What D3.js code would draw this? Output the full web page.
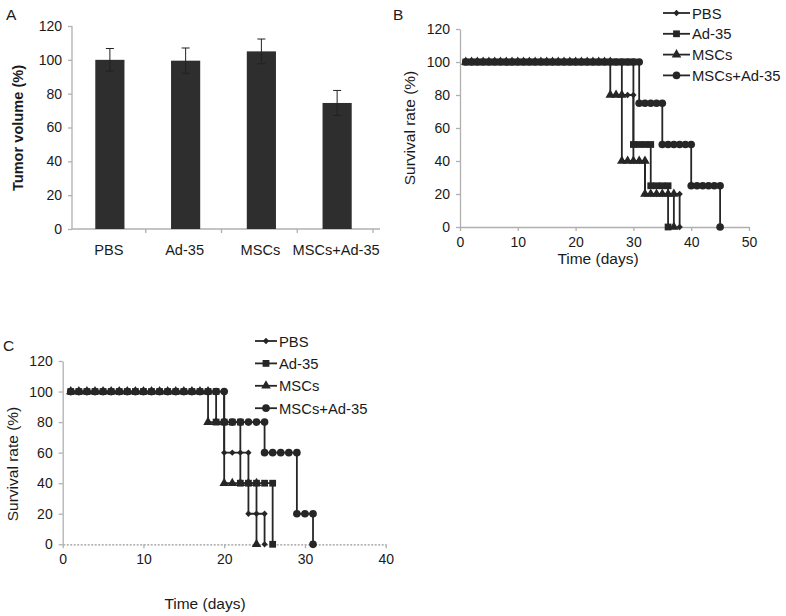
<!DOCTYPE html>
<html>
<head>
<meta charset="utf-8">
<script src="https://cdn.jsdelivr.net/npm/d3@7"></script>
<style>
  html, body { margin: 0; padding: 0; background: #fff; }
  svg { display: block; font-family: "Liberation Sans", Arial, sans-serif; }
  text { fill: #1a1a1a; }
</style>
</head>
<body>
<svg id="chart" width="786" height="616"></svg>
<script>
// ---------- Data ----------
const categories = ["PBS", "Ad-35", "MSCs", "MSCs+Ad-35"];
const tumorVolume = [100, 99.5, 105, 74.5];
const tumorError = [6.7, 7.5, 7.3, 7.4];
const tumorTicks = [0, 20, 40, 60, 80, 100, 120];

const seriesNames = ["PBS", "Ad-35", "MSCs", "MSCs+Ad-35"];
const survivalTicks = [0, 20, 40, 60, 80, 100, 120];

// Panel B: survival (%) per day, starting at day 1
const survB_PBS = [100,100,100,100,100,100,100,100,100,100,100,100,100,100,100,100,100,100,100,100,100,100,100,100,100,100,100,
  80,80,40,40,20,20,20,20,20,20,0];
const survB_Ad35 = [100,100,100,100,100,100,100,100,100,100,100,100,100,100,100,100,100,100,100,100,100,100,100,100,100,100,100,100,100,
  50,50,50,25,25,25,0];
const survB_MSCs = [100,100,100,100,100,100,100,100,100,100,100,100,100,100,100,100,100,100,100,100,100,100,100,100,100,
  80,80,40,40,40,40,20,20,20,20,20,0];
const survB_MSCsAd35 = [100,100,100,100,100,100,100,100,100,100,100,100,100,100,100,100,100,100,100,100,100,100,100,100,100,100,100,100,100,100,
  75,75,75,75,50,50,50,50,50,25,25,25,25,25,0];
const daysTicksB = [0, 10, 20, 30, 40, 50];

// Panel C: survival (%) per day, starting at day 1
const survC_PBS = [100,100,100,100,100,100,100,100,100,100,100,100,100,100,100,100,100,100,100,
  60,60,60,20,20,0];
const survC_Ad35 = [100,100,100,100,100,100,100,100,100,100,100,100,100,100,100,100,100,100,
  80,80,80,40,40,40,40,0];
const survC_MSCs = [100,100,100,100,100,100,100,100,100,100,100,100,100,100,100,100,100,
  80,80,40,40,40,40,0];
const survC_MSCsAd35 = [100,100,100,100,100,100,100,100,100,100,100,100,100,100,100,100,100,100,100,
  80,80,80,80,80,60,60,60,60,20,20,0];
const daysTicksC = [0, 10, 20, 30, 40];

// ---------- Styles ----------
const ink = "#262626";
const axisGrey = "#b0b0b0";
const tickFont = 14;
const titleFont = 15.5;
const legendFont = 14.8;
const symbols = [
  {type: d3.symbolSquare, size: 20, rotate: 45},   // PBS diamond
  {type: d3.symbolSquare, size: 46, rotate: 0},    // Ad-35 square
  {type: d3.symbolTriangle, size: 40, rotate: 0},  // MSCs triangle
  {type: d3.symbolCircle, size: 46, rotate: 0}     // MSCs+Ad-35 circle
];

const svg = d3.select("#chart");

function styleAxis(g) {
  g.selectAll(".domain").attr("stroke", axisGrey).attr("stroke-width", 1.3);
  g.selectAll(".tick line").attr("stroke", axisGrey).attr("stroke-width", 1.3);
  g.selectAll(".tick text").attr("font-size", tickFont).attr("fill", "#1a1a1a")
    .attr("font-family", "'Liberation Sans', Arial, sans-serif");
}

// ---------- Panel A ----------
(function () {
  const y = d3.scaleLinear().domain([0, 120]).range([229, 26]);
  const x = d3.scaleBand().domain(categories).range([70, 373]).padding(0);
  const barW = x.step() * 0.385;

  const gy = svg.append("g").attr("transform", "translate(72,0)")
    .call(d3.axisLeft(y).tickValues(tumorTicks).tickSize(4).tickSizeOuter(0).tickPadding(6));
  styleAxis(gy);
  gy.select(".domain").attr("d", `M0,${y(120)}V${y(0)}`);

  const gx = svg.append("g");
  gx.append("line").attr("x1", 72).attr("x2", 380).attr("y1", y(0)).attr("y2", y(0))
    .attr("stroke", axisGrey).attr("stroke-width", 1.3);
  const seps = categories.map(c => x(c)).concat([x.range()[1]]);
  gx.selectAll("line.sep").data(seps.slice(1)).join("line").attr("class", "sep")
    .attr("x1", d => d).attr("x2", d => d).attr("y1", y(0)).attr("y2", y(0) + 4)
    .attr("stroke", axisGrey).attr("stroke-width", 1.3);
  gx.selectAll("text").data(categories).join("text")
    .attr("x", d => x(d) + x.bandwidth() / 2 + 1).attr("y", y(0) + 26)
    .attr("text-anchor", "middle").attr("font-size", 14.6).text(d => d);

  svg.append("g").selectAll("rect").data(categories).join("rect")
    .attr("x", (d) => x(d) + x.bandwidth() / 2 + 2 - barW / 2)
    .attr("width", barW)
    .attr("y", (d, i) => y(tumorVolume[i]))
    .attr("height", (d, i) => y(0) - y(tumorVolume[i]))
    .attr("fill", "#2e2e2e");

  const eb = svg.append("g").attr("stroke", "#222").attr("stroke-width", 1);
  categories.forEach((c, i) => {
    const cx = x(c) + x.bandwidth() / 2 + 2;
    const top = y(tumorVolume[i] + tumorError[i]);
    const bot = y(tumorVolume[i] - tumorError[i]);
    eb.append("line").attr("x1", cx).attr("x2", cx).attr("y1", top).attr("y2", bot);
    eb.append("line").attr("x1", cx - 4).attr("x2", cx + 4).attr("y1", top).attr("y2", top);
    eb.append("line").attr("x1", cx - 4).attr("x2", cx + 4).attr("y1", bot).attr("y2", bot);
  });

  svg.append("text").attr("transform", `translate(23,128) rotate(-90)`)
    .attr("text-anchor", "middle").attr("font-size", 14.6).attr("font-weight", "bold")
    .text("Tumor volume (%)");
  svg.append("text").attr("x", 6).attr("y", 20).attr("font-size", titleFont).text("A");
})();

// ---------- Survival panels ----------
function survivalPanel(opts) {
  const {series, xDomain, xRange, yRange, xTicks, legend, xlab, ylab, letter, dashedBase} = opts;
  const x = d3.scaleLinear().domain(xDomain).range(xRange);
  const y = d3.scaleLinear().domain([0, 120]).range(yRange);

  const gy = svg.append("g").attr("transform", `translate(${xRange[0]},0)`)
    .call(d3.axisLeft(y).tickValues(survivalTicks).tickSize(4).tickSizeOuter(0).tickPadding(6));
  styleAxis(gy);

  const gx = svg.append("g").attr("transform", `translate(0,${yRange[0]})`)
    .call(d3.axisBottom(x).tickValues(xTicks).tickSize(4).tickSizeOuter(0).tickPadding(6));
  styleAxis(gx);
  if (dashedBase) gx.select(".domain").attr("stroke-dasharray", "2,1.5").attr("stroke", "#999");

  const line = d3.line().x(d => x(d[0])).y(d => y(d[1])).curve(d3.curveStepAfter);

  series.forEach((vals, si) => {
    const pts = vals.map((v, i) => [i + 1, v]);
    svg.append("path").datum(pts).attr("d", line)
      .attr("fill", "none").attr("stroke", ink).attr("stroke-width", 1.8);
    const marks = pts.slice();
    pts.forEach((p, i) => { if (i > 0 && pts[i - 1][1] !== p[1]) marks.push([p[0], pts[i - 1][1]]); });
    const sym = symbols[si];
    svg.append("g").selectAll("path").data(marks).join("path")
      .attr("d", d3.symbol().type(sym.type).size(sym.size))
      .attr("transform", d => `translate(${x(d[0])},${y(d[1])}) rotate(${sym.rotate})`)
      .attr("fill", ink);
  });

  const lg = svg.append("g");
  seriesNames.forEach((name, i) => {
    const yy = legend.y0 + i * legend.dy;
    lg.append("line").attr("x1", legend.x0).attr("x2", legend.x1).attr("y1", yy).attr("y2", yy)
      .attr("stroke", ink).attr("stroke-width", 1.8);
    const sym = symbols[i];
    lg.append("path").attr("d", d3.symbol().type(sym.type).size(sym.size))
      .attr("transform", `translate(${(legend.x0 + legend.x1) / 2},${yy}) rotate(${sym.rotate})`)
      .attr("fill", ink);
    lg.append("text").attr("x", legend.x1 + 2).attr("y", yy + 5.5)
      .attr("font-size", legendFont).text(name);
  });

  svg.append("text").attr("transform", `translate(${ylab[0]},${ylab[1]}) rotate(-90)`)
    .attr("text-anchor", "middle").attr("font-size", titleFont).text("Survival rate (%)");
  svg.append("text").attr("x", xlab[0]).attr("y", xlab[1])
    .attr("text-anchor", "middle").attr("font-size", titleFont).text("Time (days)");
  svg.append("text").attr("x", letter[0]).attr("y", letter[1]).attr("font-size", titleFont).text(letter[2]);
}

survivalPanel({
  series: [survB_PBS, survB_Ad35, survB_MSCs, survB_MSCsAd35],
  xDomain: [0, 50], xRange: [460, 749], yRange: [227, 29], xTicks: daysTicksB,
  legend: {x0: 663, x1: 690, y0: 13, dy: 20.8},
  xlab: [598, 264], ylab: [415, 128], letter: [393, 20, "B"], dashedBase: false
});

survivalPanel({
  series: [survC_PBS, survC_Ad35, survC_MSCs, survC_MSCsAd35],
  xDomain: [0, 40], xRange: [62.7, 385.7], yRange: [544.3, 361], xTicks: daysTicksC,
  legend: {x0: 255, x1: 277, y0: 341, dy: 22.4},
  xlab: [205, 609], ylab: [18, 464], letter: [3, 351, "C"], dashedBase: true
});
</script>
</body>
</html>
